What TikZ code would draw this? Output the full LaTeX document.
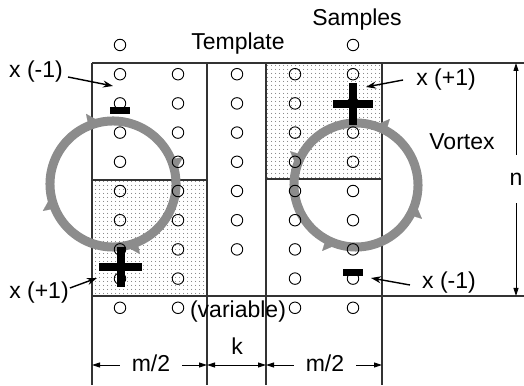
\documentclass[tikz,border=0pt]{standalone}
\usepackage{fontspec}
\setmainfont{Liberation Sans}
\usetikzlibrary{arrows.meta,patterns.meta,decorations.markings}
\tikzset{
  lbl/.style={font=\fontsize{23}{26}\selectfont, inner sep=1pt},
  dimlbl/.style={lbl, inner xsep=12pt},
  hole/.style={draw, circle, minimum size=11.5pt, inner sep=0pt, line width=0.9pt},
  wall/.style={draw=black!80, line width=1.1pt},
  dotfill/.style={pattern={Dots[distance=4pt,radius=0.55pt]}, pattern color=black!80},
  ptr/.style={-{Stealth[length=10pt,width=7pt]}, line width=1.4pt},
  dimln/.style={-{Triangle[length=8pt,width=5pt]}, line width=0.9pt},
  dimboth/.style={{Triangle[length=8pt,width=5pt]}-{Triangle[length=8pt,width=5pt]}, line width=0.9pt},
  signbar/.style={line width=8pt},
  swirl/.style={draw=black!45, line width=9pt, postaction={decorate}},
  cwtips/.style={decoration={markings,
      mark=between positions 0.025 and 1 step 0.25 with
      {\arrow[black!45,line width=0.1pt]{Triangle[harpoon,length=13pt,width=22pt]}}}},
  ccwtips/.style={decoration={markings,
      mark=between positions 0.025 and 1 step 0.25 with
      {\arrow[black!45,line width=0.1pt]{Triangle[harpoon,swap,length=13pt,width=22pt]}}}},
}
\begin{document}
\begin{tikzpicture}[x=1pt,y=1pt]
  \useasboundingbox (0,0) rectangle (524,385);
  \fill[dotfill] (92,89) rectangle (207,205);
  \fill[dotfill] (266,206) rectangle (382,322);
  \draw[wall] (92,322) -- (524,322);
  \draw[wall] (92,89) -- (524,89);
  \foreach \x in {92,207,266,382}
    \draw[wall] (\x,322) -- (\x,0);
  \draw[wall] (92,205) -- (207,205);
  \draw[wall] (266,206) -- (382,206);

  \coordinate (vl) at (113,201);
  \coordinate (vr) at (356,200);
  \draw[swirl,cwtips] (vl) ++(110:63) arc[start angle=110,end angle=-250,radius=63];
  \draw[swirl,ccwtips] (vr) ++(64:62) arc[start angle=64,end angle=424,radius=62];

  \foreach \i in {0,...,9} \node[hole] (a\i) at (120,{340-29.2*\i}) {};
  \foreach \i in {1,...,9} \node[hole] (b\i) at (178,{340-29.2*\i}) {};
  \foreach \i in {1,...,7} \node[hole] (t\i) at (237,{340-29.2*\i}) {};
  \foreach \i in {1,...,9} \node[hole] (c\i) at (295,{340-29.2*\i}) {};
  \foreach \i in {0,...,9} \node[hole] (d\i) at (353,{340-29.2*\i}) {};

  \fill (110,271) rectangle (130,278);
  \fill (343,109) rectangle (363,116);
  \draw[signbar] (333,281) -- (373,281) (353,260) -- (353,302);
  \draw[signbar] (99,118) -- (142,118) (121,98) -- (121,138);

  \node[lbl] (samples)  at (357,365) {Samples};
  \node[lbl] (template) at (238,341) {Template};
  \node[lbl] (minusTL)  at (36,313)  {x (-1)};
  \node[lbl] (plusTR)   at (446,305) {x (+1)};
  \node[lbl] (vortex)   at (462,243) {Vortex};
  \node[lbl] (plusBL)   at (39,92)   {x (+1)};
  \node[lbl] (minusBR)  at (449,102) {x (-1)};
  \node[lbl] (variable) at (238,73)  {(variable)};

  \coordinate (tipTL) at (113,299);
  \coordinate (tipTR) at (366,298);
  \coordinate (tipBL) at (97,107);
  \coordinate (tipBR) at (371,107);
  \draw[ptr] ([xshift=4pt,yshift=-5pt]minusTL.east) -- (tipTL);
  \draw[ptr] ([xshift=-12pt]plusTR.west) -- (tipTR);
  \draw[ptr] ([yshift=5pt]plusBL.east) -- (tipBL);
  \draw[ptr] ([xshift=-11pt,yshift=-2pt]minusBR.west) -- (tipBR);

  \coordinate (d1) at (92,20);
  \coordinate (d2) at (207,20);
  \coordinate (d3) at (266,20);
  \coordinate (d4) at (382,20);
  \node[dimlbl] (mleft)  at (151,22) {m/2};
  \node[lbl]    (kdim)   at (237,39) {k};
  \node[dimlbl] (mright) at (325,22) {m/2};
  \draw[dimln] (mleft.west |- d1) -- (d1);
  \draw[dimln] (mleft.east |- d2) -- (d2);
  \draw[dimboth] (d2) -- (d3);
  \draw[dimln] (mright.west |- d3) -- (d3);
  \draw[dimln] (mright.east |- d4) -- (d4);

  \coordinate (ntop) at (516,322);
  \coordinate (nbot) at (516,89);
  \node[lbl, inner ysep=18pt] (nlab) at (516,206) {n};
  \draw[dimln] (nlab.north) -- (ntop);
  \draw[dimln] (nlab.south) -- (nbot);
\end{tikzpicture}
\end{document}
